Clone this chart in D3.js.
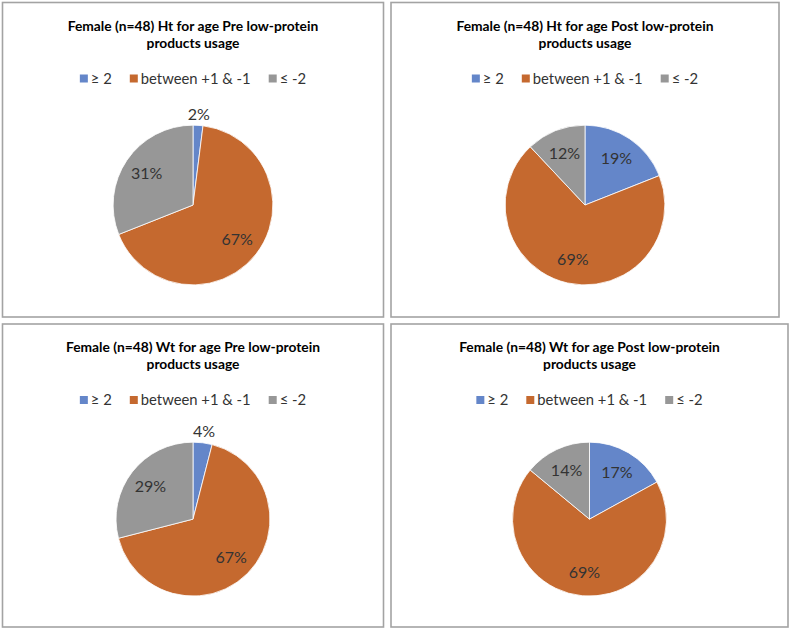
<!DOCTYPE html>
<meta charset="utf-8">
<style>
body { margin: 0; background: #fff; }
text { font-family: Lato, "Open Sans", sans-serif; }
.title { font-size: 13.8px; font-weight: bold; fill: #000; text-anchor: middle; }
.leg { font-size: 14.8px; fill: #333; }
.lbl { font-size: 16px; fill: #333; text-anchor: middle; }
</style>
<svg width="790" height="629"></svg>
<script src="https://d3js.org/d3.v7.min.js"></script>
<script>

var categories = ["\u2265 2", "between +1 & -1", "\u2264 -2"];
var titles = [
  ["Female (n=48) Ht for age Pre low-protein", "products usage"],
  ["Female (n=48) Ht for age Post low-protein", "products usage"],
  ["Female (n=48) Wt for age Pre low-protein", "products usage"],
  ["Female (n=48) Wt for age Post low-protein", "products usage"]
];
var htPre = [2, 67, 31];
var htPost = [19, 69, 12];
var wtPre = [4, 67, 29];
var wtPost = [17, 69, 14];

var series = [htPre, htPost, wtPre, wtPost];
var colors = ["#6486c9", "#c5692f", "#979797"];

// panel boxes: x0, y0, x1, y1
var boxes = [
  [2.5, 2.5, 383.5, 317],
  [391, 2.5, 779, 317],
  [2.5, 324, 383.5, 627],
  [391, 324, 788, 627]
];

var svg = d3.select("svg");
var color = d3.scaleOrdinal().domain(categories).range(colors);
var pie = d3.pie().sort(null).value(function(d) { return d.v; });

series.forEach(function(vals, i) {
  var b = boxes[i],
      w = b[2] - b[0],
      h = b[3] - b[1],
      cx = b[0] + w / 2,
      cy = b[1] + h * 0.644,
      r = h * 0.254;

  var g = svg.append("g");

  g.append("rect")
    .attr("x", b[0]).attr("y", b[1])
    .attr("width", w).attr("height", h)
    .attr("fill", "#fff")
    .attr("stroke", "#a3a3a3")
    .attr("stroke-width", 1.6);

  g.selectAll(".title")
    .data(titles[i])
    .enter().append("text")
      .attr("class", "title")
      .attr("x", cx)
      .attr("y", function(d, j) { return b[1] + 28 + j * 17; })
      .text(function(d) { return d; });

  // legend
  var leg = g.append("g");
  var lx = 0;
  categories.forEach(function(c, k) {
    var it = leg.append("g").attr("transform", "translate(" + lx + ",0)");
    it.append("rect")
      .attr("x", 0).attr("y", -9)
      .attr("width", 8).attr("height", 8)
      .attr("fill", color(c));
    var t = it.append("text")
      .attr("class", "leg")
      .attr("x", 11).attr("y", 0)
      .text(c);
    lx += 11 + t.node().getComputedTextLength() + 18;
  });
  var lw = lx - 18;
  leg.attr("transform", "translate(" + (cx - lw / 2) + "," + (b[1] + 81) + ")");

  var data = vals.map(function(v, k) { return {k: categories[k], v: v}; });
  var arcs = pie(data);
  var arc = d3.arc().innerRadius(0).outerRadius(r);

  var pg = g.append("g").attr("transform", "translate(" + cx + "," + cy + ")");
  pg.selectAll("path")
    .data(arcs)
    .enter().append("path")
      .attr("d", arc)
      .attr("fill", function(d) { return color(d.data.k); })
      .attr("stroke", "#fff")
      .attr("stroke-width", 0.8);

  pg.selectAll(".lbl")
    .data(arcs)
    .enter().append("text")
      .attr("class", "lbl")
      .attr("transform", function(d) {
        var a = (d.startAngle + d.endAngle) / 2;
        var rr = d.data.v < 5 ? r + 11 : r * 0.7;
        return "translate(" + (Math.sin(a) * rr) + "," + (-Math.cos(a) * rr) + ")";
      })
      .attr("dy", "0.35em")
      .text(function(d) { return d.data.v + "%"; });
});
</script>
